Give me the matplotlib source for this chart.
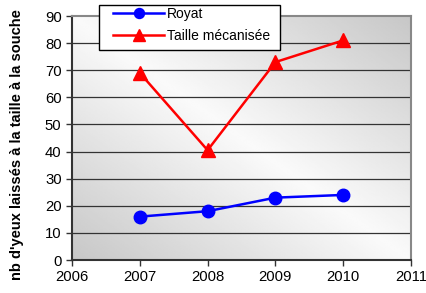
import numpy as np
import matplotlib
matplotlib.use("Agg")
import matplotlib.pyplot as plt
from matplotlib.patches import Rectangle

years = [2007, 2008, 2009, 2010]
royat = [16, 18, 23, 24]
taille = [69, 40.5, 73, 81]
xticks = [2006, 2007, 2008, 2009, 2010, 2011]
yticks = [0, 10, 20, 30, 40, 50, 60, 70, 80, 90]

plt.rcParams['font.family'] = ['Liberation Sans', 'DejaVu Sans']

W, H = 427, 293
fig = plt.figure(figsize=(W/100, H/100), dpi=100)
ax = fig.add_axes([72/W, 1-260/H, (411-72)/W, (260-16)/H])

# gradient background
nx, ny = 200, 200
X, Y = np.meshgrid(np.linspace(0, 1, nx), np.linspace(0, 1, ny))
G = np.abs(X + Y - 1)
img = 0.98 - 0.2 * G
ax.imshow(img, extent=[2006, 2011, 0, 90], origin='lower', cmap='gray',
          vmin=0, vmax=1, aspect='auto', zorder=0)

for yv in yticks[1:-1]:
    ax.axhline(yv, color='#333333', lw=0.9, zorder=1)

ax.plot(years, royat, color='#0000FF', lw=1.8, marker='o', ms=9,
        label='Royat', zorder=3, clip_on=False)
ax.plot(years, taille, color='#FF0000', lw=1.8, marker='^', ms=10,
        label='Taille mécanisée', zorder=3, clip_on=False)

ax.set_xlim(2006, 2011)
ax.set_ylim(0, 90)
ax.set_xticks(xticks)
ax.set_yticks(yticks)
ax.tick_params(labelsize=10.7, length=4, width=1, color='#333333')
for s in ['left', 'bottom']:
    ax.spines[s].set_color('#333333')
    ax.spines[s].set_linewidth(1.5)
for s in ['top', 'right']:
    ax.spines[s].set_color('#888888')
    ax.spines[s].set_linewidth(1.5)

ax.set_ylabel("nb d'yeux laissés à la taille à la souche", fontsize=10.5,
              fontweight='bold')
ax.yaxis.set_label_coords(-(72 - 24) / 339, (260 - 145) / 244)

# legend frame
fig.patches.append(Rectangle((99/W, 1-50/H), (280-99)/W, (50-5)/H,
                             transform=fig.transFigure, facecolor='white',
                             edgecolor='black', lw=1.0, zorder=5))
leg = fig.legend(loc='upper left', bbox_to_anchor=(113/W, 1-7/H),
                 fontsize=10, frameon=False, handlelength=3.7,
                 handletextpad=0.2, borderpad=0, borderaxespad=0,
                 markerscale=0.8, labelspacing=0.6)
leg.set_zorder(6)

fig.savefig('out.png', dpi=100)
